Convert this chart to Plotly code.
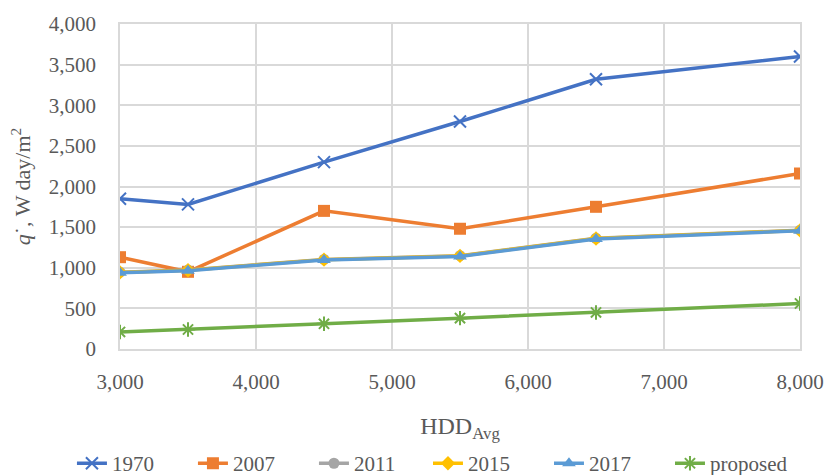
import plotly.graph_objects as go

hdd = [3000, 3500, 4500, 5500, 6500, 8000]
s1970 = [1850, 1780, 2300, 2800, 3320, 3600]
s2007 = [1130, 950, 1700, 1480, 1750, 2160]
s2011 = [945, 972, 1103, 1148, 1363, 1463]
s2015 = [942, 969, 1100, 1145, 1360, 1460]
s2017 = [937, 964, 1095, 1140, 1355, 1455]
proposed = [210, 240, 310, 380, 450, 560]

series = [
    ("1970", s1970, "#4472C4", "x-thin", 12, "legend"),
    ("2007", s2007, "#ED7D31", "square", 12, "legend"),
    ("2011", s2011, "#A5A5A5", "circle", 11, "legend"),
    ("2015", s2015, "#FFC000", "diamond", 11, "legend2"),
    ("2017", s2017, "#5B9BD5", "triangle-up", 12, "legend2"),
    ("proposed", proposed, "#70AD47", "asterisk", 12, "legend2"),
]

fig = go.Figure()
for name, vals, col, sym, sz, lg in series:
    thin = sym in ("x-thin", "asterisk")
    fig.add_trace(go.Scatter(
        x=hdd, y=vals, name=name, mode="lines+markers", legend=lg,
        line=dict(color=col, width=3.5),
        marker=dict(symbol=sym, size=sz, color=col,
                    line=dict(color=col, width=2 if thin else 0)),
    ))

font = "Liberation Serif"
leg_common = dict(orientation="h", xref="container", yref="container",
                  xanchor="left", y=0.024, yanchor="middle",
                  font=dict(size=21, color="#595959"), itemwidth=30,
                  entrywidth=76, tracegroupgap=0)
fig.update_layout(
    width=827, height=475,
    margin=dict(l=120, r=27, t=24, b=126),
    paper_bgcolor="white", plot_bgcolor="white",
    font=dict(family=font, size=21, color="#595959"),
    showlegend=True,
    legend=dict(x=0.087, **leg_common),
    legend2=dict(x=0.5175, **leg_common),
    xaxis=dict(range=[3000, 8000], dtick=1000, tickformat=",", automargin=False,
               showgrid=True, gridcolor="#D9D9D9", gridwidth=1.5,
               showline=True, linecolor="#D9D9D9", mirror=True, linewidth=1.5,
               zeroline=False, ticks="outside", ticklen=13, tickcolor="rgba(0,0,0,0)",
               title=dict(text="HDD<sub>Avg</sub>", font=dict(size=24, color="#595959"), standoff=24)),
    yaxis=dict(range=[0, 4000], dtick=500, tickformat=",", automargin=False,
               showgrid=True, gridcolor="#D9D9D9", gridwidth=1.5,
               showline=True, linecolor="#D9D9D9", mirror=True, linewidth=1.5,
               zeroline=False, ticks="outside", ticklen=18, tickcolor="rgba(0,0,0,0)",
               title=dict(text="<i>q</i>˙, W day/m<sup>2</sup>", font=dict(size=22, color="#595959"), standoff=12)),
)

fig.write_html("out.html", config={"displayModeBar": False},
               post_script="document.body.style.margin='0';document.body.style.overflow='hidden';")
